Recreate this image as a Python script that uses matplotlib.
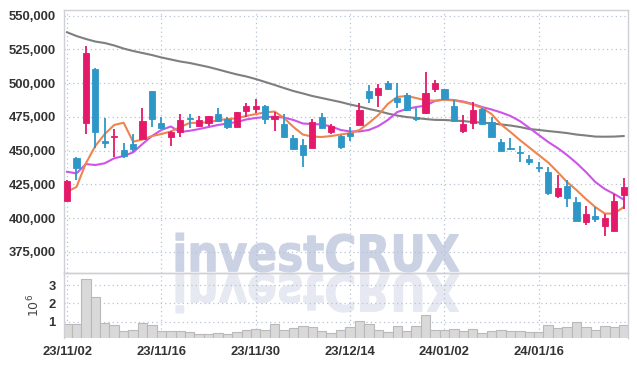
import numpy as np
import pandas as pd
import matplotlib
matplotlib.use('Agg')
import matplotlib.pyplot as plt
from matplotlib.textpath import TextPath
from matplotlib.font_manager import FontProperties
from matplotlib.patches import PathPatch
from matplotlib.transforms import Affine2D

plt.rcParams['font.family'] = ['Liberation Sans', 'DejaVu Sans']

# trading days (KRX closed 12/25, 12/29, 1/1)
days = pd.bdate_range('2023-11-02', '2024-01-29')
days = days[~days.isin(pd.to_datetime(['2023-12-25', '2023-12-29', '2024-01-01']))]
date_labels = [d.strftime('%y/%m/%d') for d in days]

opens = [412800, 444700, 470700, 510500, 456800, 459800, 450400, 454900, 458800, 494200,
         470200, 459900, 464000, 474400, 468500, 470200, 477100, 473400, 467700, 479400,
         480900, 483100, 473400, 469700, 459100, 454100, 452100, 474700, 464000, 460800,
         463300, 469000, 494200, 491500, 500400, 489200, 491200, 474700, 477700, 495500,
         495500, 483100, 464800, 470700, 480900, 471400, 456400, 452200, 449200, 443500,
         438000, 433900, 416500, 423700, 411600, 396800, 401500, 394300, 390600, 417000]
highs = [428000, 445200, 527600, 511000, 474000, 465800, 455400, 462000, 481400, 494500,
         475100, 464300, 476900, 476900, 475700, 476000, 481400, 475100, 478800, 485500,
         488500, 483500, 478900, 477100, 461600, 458400, 473400, 477700, 469500, 461500,
         467700, 485100, 498400, 499400, 501400, 499900, 492500, 481400, 508100, 502400,
         496000, 487500, 476400, 486300, 481500, 474700, 458400, 459100, 453400, 446700,
         441700, 438000, 431900, 428200, 415800, 409100, 407900, 403000, 417600, 429400]
lows = [412500, 428200, 462300, 451700, 451700, 445000, 444300, 449200, 458500, 467300,
        466000, 453400, 459900, 466500, 467300, 468200, 471400, 465800, 467300, 474700,
        477700, 469500, 464500, 459100, 450900, 437600, 451700, 466800, 462100, 450900,
        457100, 468800, 485500, 482100, 495600, 481800, 479500, 472200, 477500, 493200,
        487500, 471800, 462800, 465800, 469400, 460000, 449700, 450500, 441700, 439300,
        434300, 417000, 414600, 407900, 397500, 394800, 397300, 386600, 390300, 407000]
closes = [427400, 437300, 522600, 464000, 455800, 461000, 446000, 450900, 472200, 473700,
          467000, 464000, 472700, 473600, 472700, 475700, 472200, 467700, 478400, 483100,
          483100, 473400, 475900, 459900, 451200, 446700, 471400, 467000, 468200, 452900,
          460800, 480100, 489200, 496200, 495900, 486000, 480100, 473200, 492700, 499900,
          488000, 472000, 469700, 480100, 469700, 460300, 449900, 451300, 448300, 441700,
          437300, 418700, 422000, 414600, 398000, 402700, 399300, 399800, 412600, 423100]
volumes = [0.86, 0.86, 3.32, 2.33, 0.91, 0.82, 0.49, 0.55, 0.91, 0.82,
           0.49, 0.49, 0.49, 0.42, 0.31, 0.31, 0.37, 0.31, 0.42, 0.53,
           0.58, 0.53, 0.86, 0.53, 0.64, 0.75, 0.69, 0.48, 0.37, 0.53,
           0.71, 1.03, 0.86, 0.54, 0.42, 0.75, 0.48, 0.75, 1.37, 0.55,
           0.55, 0.60, 0.49, 0.60, 0.37, 0.49, 0.55, 0.49, 0.49, 0.42,
           0.42, 0.82, 0.64, 0.69, 0.97, 0.69, 0.55, 0.77, 0.69, 0.82]  # x 10^6

ma_short = [419500, 423000, 440600, 453400, 462300, 469000, 470700, 456600, 458200, 460800,
            462300, 464200, 467500, 470500, 470700, 471000, 472500, 473400, 474000, 475700,
            477100, 478300, 479000, 474200, 467500, 461900, 460400, 460100, 460800, 461900,
            463000, 465300, 470500, 476400, 484600, 489800, 490500, 489000, 487300, 487000,
            487800, 487200, 486000, 484200, 481600, 477100, 469400, 463800, 457800, 452300,
            446700, 441200, 434100, 426700, 420700, 414100, 408100, 403300, 403300, 408100]
ma_mid = [434300, 433100, 440000, 439300, 440600, 444300, 446000, 448700, 454900, 460800,
          465300, 467900, 463800, 464700, 466000, 467500, 469000, 470100, 471200, 473100,
          474200, 474900, 475100, 474500, 472700, 470100, 469700, 469400, 467900, 465300,
          464200, 464200, 465300, 468200, 472700, 478600, 480900, 482300, 483400, 486800,
          488000, 487500, 486400, 484600, 482300, 480500, 478300, 475700, 471900, 466800,
          461600, 456400, 451900, 446700, 440800, 434100, 426700, 421500, 417800, 413700]
ma_long = [537800, 535000, 532800, 530900, 529800, 528000, 525700, 523900, 522400, 520900,
           519100, 517600, 516100, 515000, 513500, 512000, 510200, 508300, 506500, 505000,
           503100, 500900, 498700, 496400, 494200, 492400, 490500, 489000, 487500, 486000,
           484200, 482700, 480900, 479400, 477500, 476000, 474900, 474200, 473400, 472800,
           472700, 472300, 471900, 471200, 470800, 470100, 469400, 468600, 467500, 466000,
           465300, 464500, 463800, 463000, 461900, 461200, 460400, 460300, 460400, 460800]

price_ticks = [375000, 400000, 425000, 450000, 475000, 500000, 525000, 550000]
vol_ticks = [1, 2, 3]
date_tick_idx = [0, 10, 20, 30, 40, 50]

W, H = 637, 367
fig = plt.figure(figsize=(W / 100, H / 100), dpi=100)
fig.patch.set_facecolor('white')
ax = fig.add_axes([64 / W, 1 - 273 / H, (628 - 64) / W, (273 - 10) / H])
axv = fig.add_axes([64 / W, 1 - 338 / H, (628 - 64) / W, (338 - 273) / H], sharex=ax)
for a in (ax, axv):
    a.set_facecolor('none')

# watermark with reflection
tp = TextPath((0, 0), 'investCRUX', size=50,
              prop=FontProperties(family='DejaVu Sans', weight='bold'))
ext = tp.get_extents()
sx = (459 - 176) / ext.width / W
sy = (272 - 233) / ext.height / H
tr = Affine2D().translate(-ext.x0, -ext.y0).scale(sx, sy).translate(176 / W, 1 - 272 / H)
fig.patches.append(PathPatch(tr.transform_path(tp), facecolor='#cbd2e3', edgecolor='#cbd2e3',
                             linewidth=0.8, transform=fig.transFigure, zorder=-1))
tr2 = Affine2D().translate(-ext.x0, -ext.y0).scale(sx, -sy).translate(176 / W, 1 - 274 / H)
fig.patches.append(PathPatch(tr2.transform_path(tp), facecolor='#e6e9f1', edgecolor='#e6e9f1',
                             linewidth=0.8, transform=fig.transFigure, zorder=-1))

x = np.arange(len(closes))
o = np.array(opens); c = np.array(closes)
up = c >= o
red, blue = '#e5196a', '#2f97c8'
cols = np.where(up, red, blue)

ax.vlines(x, lows, highs, colors=cols, linewidth=1.3, zorder=3)
body_lo = np.minimum(o, c)
body_h = np.maximum(np.abs(c - o), 900)
ax.bar(x, body_h, bottom=body_lo, width=0.66, color=cols, edgecolor=cols,
       linewidth=0.6, zorder=4)

ax.plot(x, ma_long, color='#7f7f7f', linewidth=1.5, zorder=2)
ax.plot(x, ma_mid, color='#cc55e8', linewidth=1.5, zorder=2)
ax.plot(x, ma_short, color='#ee8450', linewidth=1.5, zorder=2)

axv.bar(x, volumes, width=1.0, color='#d9d9d9', edgecolor='#b9b9b9', linewidth=0.8, zorder=2)

ax.set_xlim(-0.32, 59.46)
ax.set_ylim(359200, 554300)
axv.set_ylim(0.1, 3.66)

ax.set_yticks(price_ticks)
ax.set_yticklabels([f'{v:,}' for v in price_ticks])
axv.set_yticks(vol_ticks)
axv.set_yticklabels([str(v) for v in vol_ticks])
axv.set_xticks(date_tick_idx)
axv.set_xticklabels([date_labels[i] for i in date_tick_idx])
ax.tick_params(axis='x', labelbottom=False)

for a in (ax, axv):
    a.tick_params(length=0, labelsize=9.4, colors='#333333', pad=6)
    for lab in a.get_xticklabels() + a.get_yticklabels():
        lab.set_fontweight('bold')
    a.grid(True, linestyle=(0, (1, 2.5)), color='#b8c2d6', linewidth=0.9, zorder=0)
    for s in a.spines.values():
        s.set_color('#cfcfd6')
        s.set_linewidth(1)
axv.spines['bottom'].set_visible(False)
axv.tick_params(axis='x', pad=6)

axv.set_ylabel('$10^{6}$', fontsize=9, color='#444444', family='DejaVu Sans')
axv.yaxis.set_label_coords(-0.038, 0.5)

fig.savefig('out.png', dpi=100)
